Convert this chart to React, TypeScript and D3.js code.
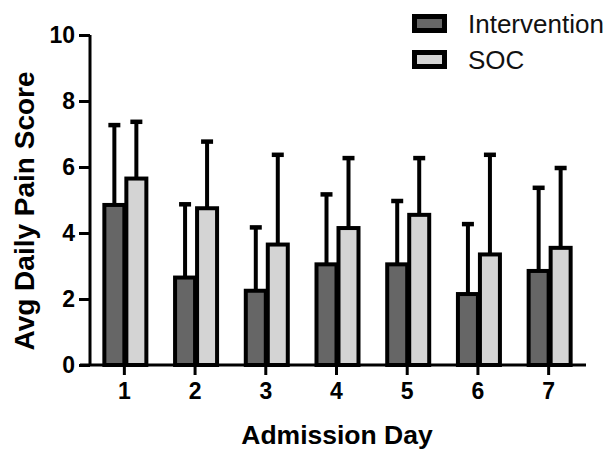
import React, { useEffect, useRef } from "react";
import * as d3 from "d3";

const days = ["1", "2", "3", "4", "5", "6", "7"];
const interventionMean = [4.85, 2.65, 2.25, 3.05, 3.05, 2.15, 2.85];
const interventionSD = [2.45, 2.25, 1.95, 2.15, 1.95, 2.15, 2.55];
const socMean = [5.65, 4.75, 3.65, 4.15, 4.55, 3.35, 3.55];
const socSD = [1.75, 2.05, 2.75, 2.15, 1.75, 3.05, 2.45];
const yTicks = [0, 2, 4, 6, 8, 10];
const seriesNames = ["Intervention", "SOC"];
const seriesColors = ["#666666", "#d4d4d4"];

const App = () => {
  const ref = useRef<SVGSVGElement>(null);

  useEffect(() => {
    const svg = d3.select(ref.current);
    svg.selectAll("*").remove();

    const font = "'Liberation Sans', Arial, sans-serif";
    const x = d3.scaleBand().domain(days).range([89, 584]).paddingInner(0);
    const y = d3.scaleLinear().domain([0, 10]).range([365, 35]);

    const series = [
      { name: seriesNames[0], mean: interventionMean, sd: interventionSD, color: seriesColors[0], dx: -20 },
      { name: seriesNames[1], mean: socMean, sd: socSD, color: seriesColors[1], dx: 2 },
    ];
    const barW = 20;

    // error bars (upper only), drawn behind bars
    series.forEach((s) => {
      const g = svg.append("g");
      days.forEach((d, i) => {
        const cx = x(d)! + x.bandwidth() / 2 + s.dx + barW / 2;
        const top = y(s.mean[i] + s.sd[i]);
        g.append("line")
          .attr("x1", cx).attr("x2", cx)
          .attr("y1", y(s.mean[i])).attr("y2", top)
          .attr("stroke", "#000").attr("stroke-width", 4);
        g.append("line")
          .attr("x1", cx - 6).attr("x2", cx + 6)
          .attr("y1", top + 1).attr("y2", top + 1)
          .attr("stroke", "#000").attr("stroke-width", 4.5);
      });
    });

    // bars
    series.forEach((s) => {
      svg.append("g")
        .selectAll("rect")
        .data(days)
        .enter()
        .append("rect")
        .attr("x", (d) => x(d)! + x.bandwidth() / 2 + s.dx)
        .attr("y", (d, i) => y(s.mean[i]))
        .attr("width", barW)
        .attr("height", (d, i) => y(0) - y(s.mean[i]))
        .attr("fill", s.color)
        .attr("stroke", "#000")
        .attr("stroke-width", 4);
    });

    // y axis
    const yAxis = svg.append("g")
      .attr("transform", "translate(90,0)")
      .call(d3.axisLeft(y).tickValues(yTicks).tickSize(11).tickPadding(4));
    yAxis.select(".domain").attr("d", "M0,35V365").attr("stroke-width", 3);
    yAxis.selectAll(".tick line").attr("stroke-width", 3);
    yAxis.selectAll("text")
      .attr("font-family", font).attr("font-size", 23).attr("font-weight", "bold")
      .attr("fill", "#000");

    // x axis
    const xAxis = svg.append("g")
      .attr("transform", "translate(0,365)")
      .call(d3.axisBottom(x).tickSize(10).tickPadding(8));
    xAxis.select(".domain").attr("d", "M80,0H586").attr("stroke-width", 3);
    xAxis.selectAll(".tick line").attr("stroke-width", 3);
    xAxis.selectAll("text")
      .attr("font-family", font).attr("font-size", 23).attr("font-weight", "bold")
      .attr("fill", "#000");

    // axis titles
    svg.append("text")
      .attr("x", 337).attr("y", 444)
      .attr("text-anchor", "middle")
      .attr("font-family", font).attr("font-size", 26.5).attr("font-weight", "bold")
      .text("Admission Day");

    svg.append("text")
      .attr("transform", "translate(34,211) rotate(-90)")
      .attr("text-anchor", "middle")
      .attr("font-family", font).attr("font-size", 28).attr("font-weight", "bold")
      .text("Avg Daily Pain Score");

    // legend
    const legend = svg.append("g");
    series.forEach((s, i) => {
      const ly = 16.5 + i * 36;
      legend.append("rect")
        .attr("x", 414.5).attr("y", ly)
        .attr("width", 30).attr("height", 14)
        .attr("fill", s.color).attr("stroke", "#000").attr("stroke-width", 5);
      legend.append("text")
        .attr("x", 468).attr("y", ly + 16.5)
        .attr("font-family", font).attr("font-size", 26)
        .attr("fill", "#111")
        .text(s.name);
    });
  }, []);

  return (
    <svg
      ref={ref}
      width={606}
      height={449}
      style={{ position: "absolute", left: 0, top: 0, background: "#fff" }}
    />
  );
};

export default App;
